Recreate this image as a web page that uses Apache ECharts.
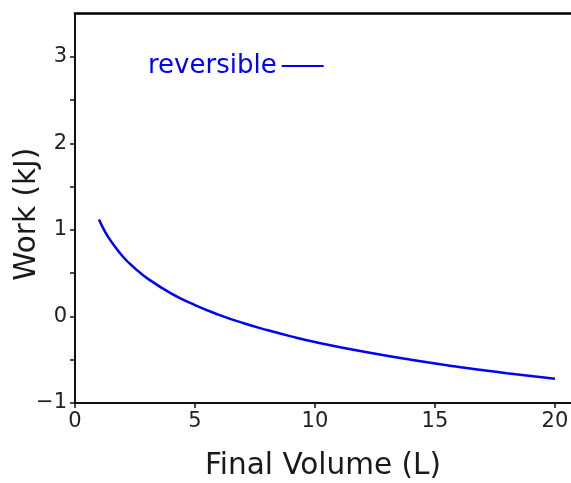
<!DOCTYPE html>
<html>
<head>
<meta charset="utf-8">
<script src="https://cdn.jsdelivr.net/npm/echarts@6/dist/echarts.min.js"></script>
<style>html,body{margin:0;padding:0;background:#fff}#c{width:571px;height:483px}</style>
</head>
<body>
<div id="c"></div>
<script>
// Final volume (L)
const volumes = [1.0, 1.25, 1.5, 2, 2.5, 3, 4, 5, 6, 7, 8, 9, 10, 12, 14, 16, 18, 20];
// Work (kJ)
const work = [1.12, 0.98, 0.87, 0.69, 0.556, 0.443, 0.267, 0.131, 0.019, -0.076, -0.157, -0.23, -0.295, -0.406, -0.501, -0.583, -0.655, -0.72];
const seriesName = 'reversible';
const xTickLabels = [0, 5, 10, 15, 20];
const yTickLabels = [-1, 0, 1, 2, 3];
const yTickMarks = [-1, -0.5, 0, 0.5, 1, 1.5, 2, 2.5, 3];

const font = 'DejaVu Sans';
const fmt = v => (v < 0 ? '\u2212' + (-v) : String(v));
const chart = echarts.init(document.getElementById('c'), null, {renderer: 'canvas'});
chart.setOption({
  animation: false,
  grid: {left: 75, right: 0, top: 13.5, bottom: 80, containLabel: false, outerBoundsMode: 'none'},
  legend: {
    show: true,
    left: 148, top: 53, padding: 0,
    align: 'right',
    icon: 'rect', itemWidth: 42, itemHeight: 2.2,
    textStyle: {color: '#0000ff', fontSize: 26, fontFamily: font, lineHeight: 26},
    data: [seriesName]
  },
  xAxis: [{
    type: 'value', min: 0, max: 20.67, interval: 5,
    name: 'Final Volume (L)', nameLocation: 'middle', nameGap: 48, nameMoveOverlap: false,
    nameTextStyle: {fontSize: 29.5, fontFamily: font, color: '#1a1a1a'},
    axisLine: {show: true, onZero: false, lineStyle: {color: '#111', width: 2}},
    axisTick: {show: true, length: 5, lineStyle: {color: '#111', width: 1.5}, customValues: xTickLabels},
    axisLabel: {fontSize: 21, fontFamily: font, color: '#222', margin: 8, customValues: xTickLabels, formatter: fmt},
    splitLine: {show: false}
  }, {
    type: 'value', position: 'top', min: 0, max: 20.67,
    axisLine: {show: true, onZero: false, lineStyle: {color: '#000', width: 2.5}},
    axisTick: {show: false}, axisLabel: {show: false}, splitLine: {show: false}
  }],
  yAxis: {
    type: 'value', min: -1, max: 3.5, interval: 1,
    name: 'Work (kJ)', nameLocation: 'middle', nameGap: 33, nameRotate: 90, nameMoveOverlap: false,
    nameTextStyle: {fontSize: 29.5, fontFamily: font, color: '#1a1a1a', padding: [0, 12, 0, 0]},
    axisLine: {show: true, onZero: false, lineStyle: {color: '#111', width: 2}},
    axisTick: {show: true, length: 5, lineStyle: {color: '#111', width: 1.5}, customValues: yTickMarks},
    axisLabel: {fontSize: 21, fontFamily: font, color: '#222', margin: 8, customValues: yTickLabels, formatter: fmt},
    splitLine: {show: false}
  },
  series: [{
    name: seriesName, type: 'line', smooth: true, showSymbol: false, symbol: 'none',
    lineStyle: {color: '#0000ff', width: 2.5}, itemStyle: {color: '#0000ff'},
    data: volumes.map((v, i) => [v, work[i]])
  }]
});
</script>
</body>
</html>
